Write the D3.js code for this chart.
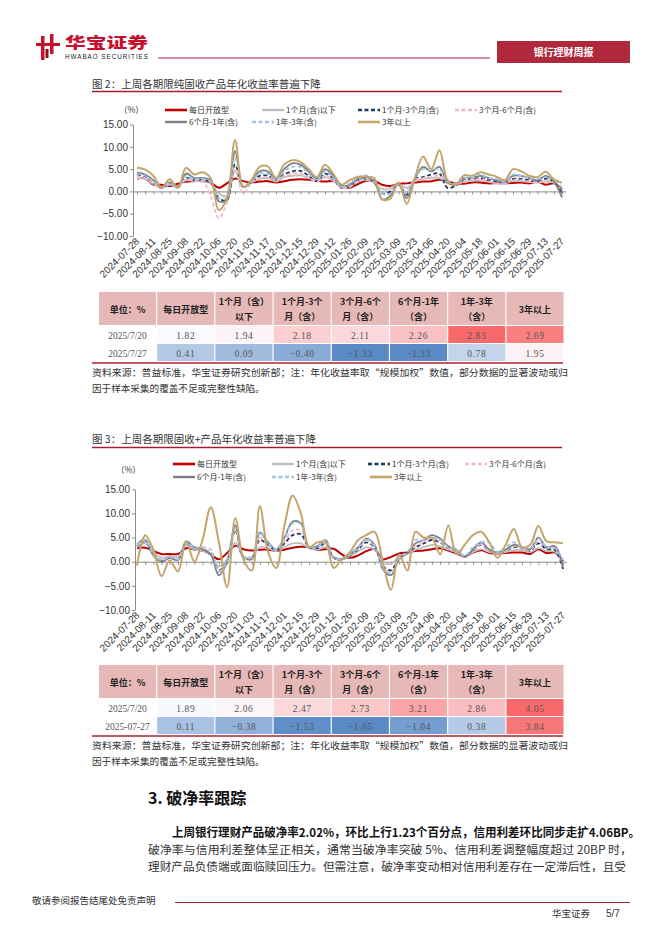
<!DOCTYPE html>
<html><head><meta charset="utf-8">
<script src="https://cdn.jsdelivr.net/npm/d3@7"></script>
<style>body{margin:0;background:#fff}svg{display:block}</style>
</head><body><svg id="page" width="662" height="936"></svg>
<script>
// ---------------- DATA ----------------
const dates = ["2024-07-28","2024-08-04","2024-08-11","2024-08-18","2024-08-25","2024-09-01","2024-09-08","2024-09-15","2024-09-22","2024-09-29","2024-10-06","2024-10-13","2024-10-20","2024-10-27","2024-11-03","2024-11-10","2024-11-17","2024-11-24","2024-12-01","2024-12-08","2024-12-15","2024-12-22","2024-12-29","2025-01-05","2025-01-12","2025-01-19","2025-01-26","2025-02-02","2025-02-09","2025-02-16","2025-02-23","2025-03-02","2025-03-09","2025-03-16","2025-03-23","2025-03-30","2025-04-06","2025-04-13","2025-04-20","2025-04-27","2025-05-04","2025-05-11","2025-05-18","2025-05-25","2025-06-01","2025-06-08","2025-06-15","2025-06-22","2025-06-29","2025-07-06","2025-07-13","2025-07-20","2025-07-27"];
const tickLabels = ["2024-07-28","2024-08-11","2024-08-25","2024-09-08","2024-09-22","2024-10-06","2024-10-20","2024-11-03","2024-11-17","2024-12-01","2024-12-15","2024-12-29","2025-01-12","2025-01-26","2025-02-09","2025-02-23","2025-03-09","2025-03-23","2025-04-06","2025-04-20","2025-05-04","2025-05-18","2025-06-01","2025-06-15","2025-06-29","2025-07-13","2025-07-27"];
const yTicks = [-10,-5,0,5,10,15];
const seriesNames = ["每日开放型","1个月(含)以下","1个月-3个月(含)","3个月-6个月(含)","6个月-1年(含)","1年-3年(含)","3年以上"];

// Chart 1: 纯固收
const c1Daily   = [2.9,2.9,1.5,1.5,1.2,1.7,2.2,2.3,2.3,2.0, 0.8,1.8,2.9,2.3,2.0,2.2,2.3,2.0,2.3,2.6, 2.7,2.6,2.4,2.2,2.3,1.2,0.8,1.6,2.4,2.4, 1.5,1.2,1.7,1.8,2.0,2.2,2.3,2.6,2.2,1.8, 1.7,2.0,2.0,1.8,1.9,1.8,1.9,2.0,1.8,2.2, 1.5,1.82,0.41];
const c1Under1M = [3.0,2.8,1.6,0.8,1.5,1.2,2.5,2.3,2.3,1.8, -0.5,-1.0,4.5,1.0,2.0,2.8,3.0,2.2,3.2,3.5, 3.6,3.0,2.2,3.2,2.4,0.8,1.0,2.2,2.6,2.0, 0.5,0.8,1.6,0.8,2.3,2.8,3.0,3.0,1.8,1.5, 2.2,2.4,2.5,2.2,1.8,1.8,2.4,2.3,2.1,2.0, 2.2,1.94,0.09];
const c1M1to3   = [3.8,3.3,1.8,0.8,1.5,1.0,3.0,2.5,2.5,2.0, -1.5,-2.0,6.0,1.0,2.0,3.5,3.5,2.5,3.8,4.5, 4.6,3.5,2.3,4.0,2.8,0.8,1.0,2.5,2.8,2.0, -0.5,0.0,1.5,-0.8,2.8,3.2,3.8,4.0,0.8,1.3, 2.5,2.8,3.0,2.5,2.2,2.0,2.8,2.8,2.5,2.2, 2.8,2.18,-0.40];
const c1M3to6   = [3.3,3.0,1.8,0.8,1.5,1.0,2.8,2.4,2.4,-1.0, -6.0,-2.5,5.0,-0.5,2.0,3.0,3.2,2.3,3.5,4.0, 4.0,3.2,2.2,3.5,2.5,0.8,1.0,2.3,2.8,2.0, 0.5,0.5,1.5,0.5,2.5,3.0,3.2,3.5,1.8,1.5, 2.3,2.6,2.8,2.3,1.8,2.0,2.6,2.5,2.3,2.0, 2.5,2.11,-1.33];
const c1M6to1Y  = [4.2,3.8,2.5,1.0,2.0,1.0,4.0,3.0,3.0,2.5, -2.2,-2.0,9.0,1.0,2.3,4.5,4.5,2.8,5.0,6.3, 6.0,4.5,2.8,5.0,3.5,1.2,1.5,2.8,3.2,2.5, -1.8,-1.0,1.8,-1.5,2.8,5.5,4.5,5.5,2.0,1.5, 3.0,3.0,3.5,3.0,2.5,2.2,3.5,3.5,3.0,2.5, 3.5,2.26,-1.33];
const c1Y1to3   = [4.0,3.5,2.2,1.0,1.8,0.8,3.5,2.8,2.8,2.2, -1.5,-1.5,7.5,1.0,2.2,4.0,4.0,2.6,4.5,5.5, 5.5,4.0,2.6,4.5,3.0,1.0,1.8,3.0,3.6,2.5, -0.5,-0.5,1.8,-0.5,3.0,5.0,4.8,5.0,2.2,1.8, 3.0,3.0,3.8,3.0,2.8,2.2,3.8,3.5,3.0,2.8, 3.2,2.83,0.78];
const c1Over3Y  = [5.3,4.9,3.5,0.8,2.7,0.8,5.3,3.8,4.3,3.0, -4.2,-1.5,11.5,1.0,2.5,5.5,5.6,3.0,6.0,7.0, 6.6,5.0,3.2,6.0,4.0,1.5,2.5,3.3,3.3,3.0, -1.8,-1.6,2.0,-2.8,3.0,7.8,5.0,9.2,2.5,1.5, 3.6,3.5,4.3,3.8,3.3,2.5,5.0,4.5,3.5,3.2, 4.4,2.69,1.95];

// Chart 2: 固收+
const c2Daily   = [2.8,2.9,2.2,1.6,1.6,1.6,2.8,2.5,2.3,1.5, 0.5,1.8,3.3,2.6,2.3,2.5,2.5,2.2,2.5,2.9, 3.1,3.0,2.5,2.6,2.7,1.5,0.8,1.3,2.2,2.6, 0.5,1.0,1.7,1.9,2.2,2.3,2.6,2.8,2.3,1.7, 1.2,1.9,2.4,1.8,1.7,1.8,1.9,1.9,1.6,2.6, 1.8,1.89,0.11];
const c2Under1M = [3.0,3.8,2.0,0.8,1.2,1.0,3.5,2.5,2.3,1.5, -1.0,0.5,4.0,1.0,1.0,3.0,2.8,2.2,3.0,3.8, 3.8,2.8,2.5,3.0,1.0,0.6,1.2,2.2,3.0,2.5, 0.0,-0.5,1.2,1.7,2.5,3.0,3.5,3.2,2.5,2.0, 1.2,2.0,2.6,2.0,1.8,2.0,2.4,2.4,2.0,2.8, 2.2,2.06,-0.38];
const c2M1to3   = [3.2,4.2,1.5,0.3,0.8,0.5,3.8,2.8,2.5,1.8, -1.8,0.2,6.5,0.8,0.8,4.5,3.5,2.3,3.8,5.5, 5.7,3.0,2.8,3.8,0.8,0.5,1.3,2.6,4.0,3.0, -0.8,-1.8,0.8,1.8,3.0,3.8,4.5,4.0,2.8,2.2, 1.0,2.3,3.5,2.3,1.8,2.3,3.0,2.8,2.3,3.8, 2.6,2.47,-1.53];
const c2M3to6   = [3.3,4.3,1.6,0.5,1.0,0.6,3.9,2.8,2.5,1.8, -2.2,0.3,7.0,1.0,0.8,5.0,3.6,2.4,4.2,6.5, 6.5,3.0,3.0,4.0,0.8,0.6,1.3,2.8,4.3,3.2, -1.0,-2.2,0.8,1.8,3.2,4.0,5.0,4.2,2.8,2.2, 1.0,2.3,3.6,2.3,1.8,2.3,3.2,2.8,2.4,4.2, 2.8,2.73,-1.65];
const c2M6to1Y  = [3.6,4.6,1.3,0.0,0.8,0.3,4.2,3.0,2.6,1.5, -2.8,0.0,7.5,1.0,0.5,6.0,4.0,2.5,5.0,8.3, 8.0,3.0,3.2,4.5,0.8,0.5,1.5,3.0,4.8,3.5, -1.5,-2.8,0.5,1.8,3.8,4.5,5.5,4.8,3.2,2.5, 1.0,2.5,4.0,2.5,2.0,2.5,3.5,3.0,2.6,5.0, 3.0,3.21,-1.04];
const c2Y1to3   = [3.5,4.5,1.5,0.3,1.0,0.5,4.0,3.0,3.0,2.5, -2.0,0.3,7.0,1.0,0.8,6.2,3.8,2.5,4.8,8.0, 7.8,3.0,3.0,4.5,0.8,0.6,1.5,3.0,4.6,3.4, -1.2,-2.5,0.6,2.0,4.5,4.5,5.0,4.5,3.0,2.5, 1.2,3.0,4.0,4.0,2.0,3.0,4.0,3.0,2.8,4.8, 3.0,2.86,0.38];
const c2Over3Y  = [-0.8,5.5,2.5,-3.0,0.3,-2.0,4.2,0.0,4.5,11.3, 4.0,-5.3,9.0,0.5,-1.8,11.5,2.0,-1.3,7.5,13.7, 10.0,3.0,4.0,4.0,-1.3,0.5,2.0,4.5,5.5,6.2, 0.0,-5.8,1.5,-1.8,6.2,5.0,5.0,1.5,7.5,1.5, 3.5,5.5,6.2,4.0,0.8,3.5,6.8,3.0,3.5,7.4, 4.2,4.05,3.84];

// Tables
const tableHeaders = [["单位：%"],["每日开放型"],["1个月（含）","以下"],["1个月-3个","月（含）"],["3个月-6个","月（含）"],["6个月-1年","（含）"],["1年-3年","（含）"],["3年以上"]];
const t1Dates = ["2025/7/20","2025/7/27"];
const t1Row1 = [1.82,1.94,2.18,2.11,2.26,2.83,2.69];
const t1Row2 = [0.41,0.09,-0.40,-1.33,-1.33,0.78,1.95];
const t2Dates = ["2025/7/20","2025-07-27"];
const t2Row1 = [1.89,2.06,2.47,2.73,3.21,2.86,4.05];
const t2Row2 = [0.11,-0.38,-1.53,-1.65,-1.04,0.38,3.84];

// ---------------- STYLE ----------------
const CJK = "'Noto Sans CJK SC','Noto Sans',sans-serif";
const SANS = "'Liberation Sans',Arial,sans-serif";
const SERIF = "'Liberation Serif','DejaVu Serif',serif";
const DARKRED = "#a31d35";
const seriesStyle = [
  {color:"#c00000", width:2,   dash:null},
  {color:"#bfbfbf", width:1.8, dash:null},
  {color:"#1f3864", width:1.8, dash:"4,2.5"},
  {color:"#f4b8c4", width:1.8, dash:"4,2.5"},
  {color:"#7a7f8a", width:1.8, dash:null},
  {color:"#9dc3e6", width:1.8, dash:"4,2.5"},
  {color:"#c4a56a", width:2,   dash:null}
];

const svg = d3.select("#page");
svg.append("rect").attr("width",662).attr("height",936).attr("fill","#fff");

// ---------------- HEADER ----------------
const hdr = svg.append("g");
hdr.append("rect").attr("x",41).attr("y",36).attr("width",3.5).attr("height",24).attr("fill","#c8102e");
hdr.append("rect").attr("x",50).attr("y",34).attr("width",3.5).attr("height",20).attr("fill","#c8102e");
hdr.append("rect").attr("x",36).attr("y",43).attr("width",24).attr("height",3).attr("fill","#c8102e");
hdr.append("rect").attr("x",45.5).attr("y",49).attr("width",3).attr("height",9).attr("fill","#8a1020");
hdr.append("text").attr("x",65).attr("y",47.5).attr("font-family",CJK).attr("font-weight",900)
  .attr("font-size",15).attr("fill","#c8102e").attr("textLength",83).attr("lengthAdjust","spacingAndGlyphs").text("华宝证券");
hdr.append("text").attr("x",65).attr("y",59).attr("font-family",SANS).attr("font-size",6.3)
  .attr("fill","#222").attr("textLength",83).text("HWABAO SECURITIES");
hdr.append("line").attr("x1",158).attr("x2",490).attr("y1",58).attr("y2",58).attr("stroke",DARKRED).attr("stroke-width",1.2);
hdr.append("rect").attr("x",497).attr("y",41).attr("width",133).attr("height",22).attr("fill","#b0283c");
hdr.append("text").attr("x",563.5).attr("y",55.5).attr("text-anchor","middle").attr("font-family",CJK)
  .attr("font-weight",700).attr("font-size",10).attr("fill","#fff").text("银行理财周报");

// ---------------- CHART ----------------
function drawChart(cfg, series) {
  const g = svg.append("g");
  g.append("text").attr("x",92).attr("y",cfg.titleY).attr("font-family",CJK).attr("font-size",10.5)
    .attr("fill","#333").text(cfg.title);
  g.append("line").attr("x1",92).attr("x2",562).attr("y1",cfg.ruleY).attr("y2",cfg.ruleY)
    .attr("stroke",DARKRED).attr("stroke-width",1.5);

  const x = d3.scalePoint().domain(dates).range([cfg.x0, cfg.x1]);
  const y = d3.scaleLinear().domain([-10,15]).range([cfg.yBottom, cfg.yTop]);

  const ya = g.append("g").attr("transform",`translate(${cfg.axisX},0)`)
    .call(d3.axisLeft(y).tickValues(yTicks).tickFormat(d3.format(".2f")).tickSize(3).tickSizeOuter(0));
  ya.select(".domain").attr("stroke","#8c8c8c");
  ya.selectAll(".tick line").attr("stroke","#8c8c8c");
  ya.selectAll(".tick text").attr("font-family",SANS).attr("font-size",10).attr("fill","#333").attr("x",-5);

  const xa = g.append("g").attr("transform",`translate(0,${y(0)})`)
    .call(d3.axisBottom(x).tickSize(3).tickSizeOuter(0).tickFormat(""));
  xa.select(".domain").attr("d",`M${cfg.axisX},0.5H${cfg.x1+4}`).attr("stroke","#8c8c8c");
  xa.selectAll(".tick line").attr("stroke","#8c8c8c");

  g.append("g").selectAll("text").data(tickLabels).join("text")
    .attr("transform",d=>`translate(${x(d)+3},${cfg.yBottom+6}) rotate(-45)`)
    .attr("text-anchor","end").attr("font-family",SANS).attr("font-size",10).attr("fill","#333")
    .text(d=>d);

  const line = d3.line().x((d,i)=>x(dates[i])).y(d=>y(d)).curve(d3.curveCatmullRom.alpha(0.5));
  g.append("g").selectAll("path").data(series).join("path")
    .attr("d",d=>line(d)).attr("fill","none")
    .attr("stroke",(d,i)=>seriesStyle[i].color)
    .attr("stroke-width",(d,i)=>seriesStyle[i].width)
    .attr("stroke-dasharray",(d,i)=>seriesStyle[i].dash)
    .attr("stroke-linejoin","round");

  g.append("text").attr("x",cfg.pctX).attr("y",cfg.pctY).attr("font-family",CJK).attr("font-size",8.5)
    .attr("fill","#333").text("（%）");
  const lg = g.append("g");
  seriesNames.forEach((name,i)=>{
    const pos = cfg.legendPos[i];
    const s = seriesStyle[i];
    lg.append("line").attr("x1",pos[0]).attr("x2",pos[0]+22).attr("y1",pos[1]).attr("y2",pos[1])
      .attr("stroke",s.color).attr("stroke-width",s.width+0.6).attr("stroke-dasharray",s.dash);
    lg.append("text").attr("x",pos[0]+24).attr("y",pos[1]+3).attr("font-family",CJK).attr("font-size",8)
      .attr("fill","#333").text(name);
  });
}

drawChart({
  title:"图 2：上周各期限纯固收产品年化收益率普遍下降", titleY:87.5, ruleY:91.5,
  x0:137, x1:562, yTop:124.5, yBottom:236, axisX:133,
  pctX:119, pctY:113,
  legendPos:[[165,110],[262,110],[358,110],[455,110],[165,122],[252,122],[358,122]]
},[c1Daily,c1Under1M,c1M1to3,c1M3to6,c1M6to1Y,c1Y1to3,c1Over3Y]);

drawChart({
  title:"图 3：上周各期限固收+产品年化收益率普遍下降", titleY:443, ruleY:447.5,
  x0:137, x1:563, yTop:489.3, yBottom:610, axisX:135,
  pctX:116, pctY:473,
  legendPos:[[173,464],[272,464],[368,464],[465,464],[173,477],[272,477],[370,477]]
},[c2Daily,c2Under1M,c2M1to3,c2M3to6,c2M6to1Y,c2Y1to3,c2Over3Y]);

// ---------------- TABLES ----------------
function drawTable(top, rowDates, r1, r2) {
  const g = svg.append("g");
  const cols = d3.range(8);
  const xb = d3.scaleBand().domain(cols).range([99,563.5]).paddingInner(0.02);
  const headH = 34, rowH = 18;
  const all = r1.concat(r2);
  const med = d3.median(all);
  const color = d3.scaleLinear().domain([d3.min(all), med, d3.max(all)])
    .range(["#5a8ac6","#fcfcff","#f8696b"]);
  cols.forEach(c=>{
    g.append("rect").attr("x",xb(c)).attr("y",top).attr("width",xb.bandwidth()).attr("height",headH-1)
      .attr("fill","#e6b8b7");
    const lines = tableHeaders[c];
    lines.forEach((t,k)=>{
      const cy = lines.length===1 ? top+headH/2+3.5 : top+headH/2 - 4 + k*15;
      g.append("text").attr("x",xb(c)+xb.bandwidth()/2).attr("y",cy).attr("text-anchor","middle")
        .attr("font-family",CJK).attr("font-weight",700).attr("font-size",9).attr("fill","#222").text(t);
    });
  });
  [r1,r2].forEach((row,ri)=>{
    const ry = top+headH+ri*rowH;
    g.append("text").attr("x",xb(0)+xb.bandwidth()/2).attr("y",ry+rowH/2+3.5).attr("text-anchor","middle")
      .attr("font-family",SERIF).attr("font-size",9.5).attr("fill","#555").text(rowDates[ri]);
    row.forEach((v,j)=>{
      const c = j+1;
      g.append("rect").attr("x",xb(c)).attr("y",ry).attr("width",xb.bandwidth()).attr("height",rowH-1)
        .attr("fill",color(v));
      g.append("text").attr("x",xb(c)+xb.bandwidth()/2).attr("y",ry+rowH/2+3.5).attr("text-anchor","middle")
        .attr("font-family",SERIF).attr("font-size",9.5).attr("fill","#555").attr("letter-spacing",0.6)
        .text(d3.format(".2f")(v).replace("-","−"));
    });
  });
  const bottom = top+headH+2*rowH;
  g.append("line").attr("x1",92).attr("x2",563).attr("y1",bottom+1).attr("y2",bottom+1)
    .attr("stroke","#b3202f").attr("stroke-width",1.5);
  return bottom;
}
const b1 = drawTable(292, t1Dates, t1Row1, t1Row2);
const b2 = drawTable(665, t2Dates, t2Row1, t2Row2);

const srcLine1 = "资料来源：普益标准，华宝证券研究创新部；注：年化收益率取“规模加权”数值，部分数据的显著波动或归";
const srcLine2 = "因于样本采集的覆盖不足或完整性缺陷。";
[b1,b2].forEach(b=>{
  svg.append("text").attr("x",92).attr("y",b+14).attr("font-family",CJK).attr("font-size",9.6)
    .attr("fill","#333").attr("textLength",476).attr("lengthAdjust","spacingAndGlyphs").text(srcLine1);
  svg.append("text").attr("x",92).attr("y",b+30).attr("font-family",CJK).attr("font-size",9.6)
    .attr("fill","#333").text(srcLine2);
});

// ---------------- SECTION TEXT ----------------
svg.append("text").attr("x",148).attr("y",804).attr("font-family",CJK).attr("font-size",16)
  .attr("font-weight",700).attr("fill","#111").text("3. 破净率跟踪");
svg.append("text").attr("x",172).attr("y",837).attr("font-family",CJK).attr("font-size",12)
  .attr("font-weight",700).attr("fill","#111").attr("textLength",468).attr("lengthAdjust","spacingAndGlyphs")
  .text("上周银行理财产品破净率2.02%，环比上行1.23个百分点，信用利差环比同步走扩4.06BP。");
svg.append("text").attr("x",148).attr("y",854).attr("font-family",CJK).attr("font-size",11.5)
  .attr("fill","#333").attr("textLength",484).attr("lengthAdjust","spacingAndGlyphs")
  .text("破净率与信用利差整体呈正相关，通常当破净率突破 5%、信用利差调整幅度超过 20BP 时，");
svg.append("text").attr("x",148).attr("y",871).attr("font-family",CJK).attr("font-size",11.5)
  .attr("fill","#333").attr("textLength",478).attr("lengthAdjust","spacingAndGlyphs")
  .text("理财产品负债端或面临赎回压力。但需注意，破净率变动相对信用利差存在一定滞后性，且受");

// ---------------- FOOTER ----------------
svg.append("text").attr("x",32).attr("y",904).attr("font-family",CJK).attr("font-size",9.5)
  .attr("fill","#333").text("敬请参阅报告结尾处免责声明");
svg.append("line").attr("x1",175).attr("x2",630).attr("y1",902.5).attr("y2",902.5)
  .attr("stroke",DARKRED).attr("stroke-width",1.2);
svg.append("text").attr("x",552).attr("y",917).attr("font-family",CJK).attr("font-size",9.5)
  .attr("fill","#333").text("华宝证券");
svg.append("text").attr("x",606).attr("y",917).attr("font-family",SANS).attr("font-size",10)
  .attr("fill","#333").text("5/7");
</script></body></html>
